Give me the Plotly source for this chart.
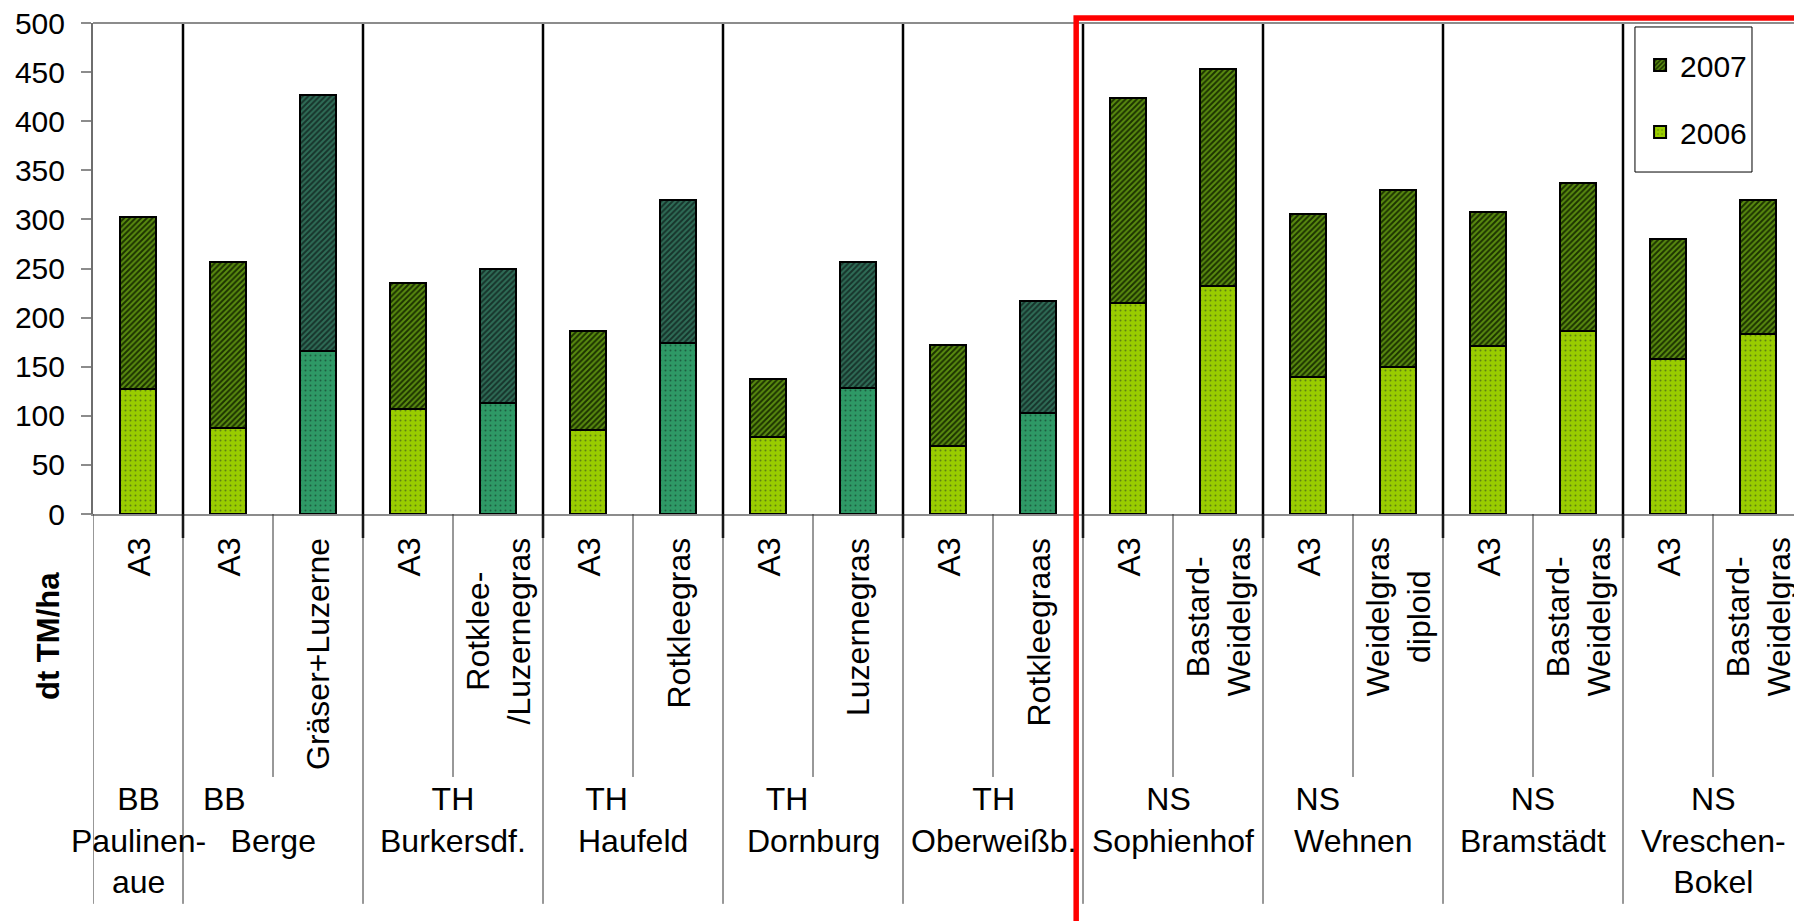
import plotly.graph_objects as go

# ---- data -----------------------------------------------------------------
treatments = [
    "A3", "A3", "Gräser+Luzerne", "A3", "Rotklee-<br>/Luzernegras",
    "A3", "Rotkleegras", "A3", "Luzernegras", "A3", "Rotkleegraas",
    "A3", "Bastard-<br>Weidelgras", "A3", "Weidelgras<br>diploid",
    "A3", "Bastard-<br>Weidelgras", "A3", "Bastard-<br>Weidelgras",
]
crop_kind = [
    "Gras", "Gras", "Leguminose", "Gras", "Leguminose",
    "Gras", "Leguminose", "Gras", "Leguminose", "Gras", "Leguminose",
    "Gras", "Gras", "Gras", "Gras", "Gras", "Gras", "Gras", "Gras",
]
site_region = ["BB", "BB", "TH", "TH", "TH", "TH", "NS", "NS", "NS", "NS"]
site_name = ["Paulinen-<br>aue", "Berge", "Burkersdf.", "Haufeld", "Dornburg",
             "Oberweißb.", "Sophienhof", "Wehnen", "Bramstädt", "Vreschen-<br>Bokel"]
site_size = [1, 2, 2, 2, 2, 2, 2, 2, 2, 2]

yield_2006 = [127, 88, 166, 107, 113, 86, 174, 78, 128, 69, 103,
              215, 232, 140, 150, 171, 186, 158, 183]
yield_2007 = [175, 169, 261, 128, 136, 100, 146, 59, 129, 103, 114,
              209, 221, 166, 180, 137, 151, 122, 137]

# ---- styles -----------------------------------------------------------------
FONT = "Liberation Sans, Arial, sans-serif"
# (background, foreground) of the fill pattern per year and crop kind
fill = {
    ("2006", "Gras"): ("#99cc00", "#5f7f10"),
    ("2006", "Leguminose"): ("#2e9966", "#1d5e40"),
    ("2007", "Gras"): ("#5a8c10", "#1c3300"),
    ("2007", "Leguminose"): ("#2f6d57", "#17342b"),
}
pattern_shape = {"2006": ".", "2007": "/"}
pattern_size = {"2006": 5, "2007": 4}
pattern_solidity = {"2006": 0.12, "2007": 0.5}
region_indent = [0, 11, 0, 6, 6, 0, 1, 8, 0, 0]   # trailing blanks in the region line

n = len(treatments)
idx = list(range(n))

fig = go.Figure()
for year, values in (("2006", yield_2006), ("2007", yield_2007)):
    for kind in ("Gras", "Leguminose"):
        sel = [i for i in idx if crop_kind[i] == kind]
        bg, fg = fill[(year, kind)]
        fig.add_trace(go.Bar(
            x=sel, y=[values[i] for i in sel], name=year,
            showlegend=(kind == "Gras"), legendrank=1 if year == "2007" else 2,
            legendgroup=year,
            marker=dict(
                color=bg, line=dict(color="black", width=2),
                pattern=dict(shape=pattern_shape[year], size=pattern_size[year],
                             solidity=pattern_solidity[year], fillmode="replace",
                             bgcolor=bg, fgcolor=fg),
            ),
        ))

# site boundaries and label grid
starts = []
s = 0
for size in site_size:
    starts.append(s)
    s += size
shapes = []
for st in starts[1:]:
    # separator through the plot, running a little below the axis
    shapes.append(dict(type="line", xref="x", yref="paper", x0=st - 0.5, x1=st - 0.5,
                       y0=-0.049, y1=1, line=dict(color="black", width=2.5)))
for st in starts:
    shapes.append(dict(type="line", xref="x", yref="paper", x0=st - 0.5, x1=st - 0.5,
                       y0=-0.794, y1=0, line=dict(color="#333333", width=1)))
for st, size in zip(starts, site_size):
    if size == 2:
        shapes.append(dict(type="line", xref="x", yref="paper", x0=st + 0.5, x1=st + 0.5,
                           y0=-0.5356, y1=0, line=dict(color="#333333", width=1)))
# top frame line
shapes.append(dict(type="line", xref="paper", yref="paper", x0=0, x1=1, y0=1, y1=1,
                   line=dict(color="#8c8c8c", width=2)))
# legend frame
shapes.append(dict(type="rect", xref="paper", yref="paper", x0=0.9065, x1=0.9753,
                   y0=0.6965, y1=0.9919, line=dict(color="black", width=1),
                   fillcolor="white", layer="above"))
# highlight frame around the NS sites
shapes.append(dict(type="rect", xref="paper", yref="paper", x0=0.578, x1=1.05,
                   y0=-0.86, y1=1.0102, line=dict(color="#ff0000", width=5.5),
                   fillcolor="rgba(0,0,0,0)", layer="above"))

annotations = []
for i, t in enumerate(treatments):
    annotations.append(dict(x=i, y=0, xref="x", yref="y", text=t, showarrow=False,
                            textangle=-90, xanchor="center", yanchor="top", yshift=-22,
                            align="center", font=dict(family=FONT, size=32, color="black")))
for st, size, reg, name, pad in zip(starts, site_size, site_region, site_name, region_indent):
    annotations.append(dict(x=st + (size - 1) / 2, y=-0.5397, xref="x", yref="paper",
                            text=reg + "\u00a0" * pad + "<br>" + name, showarrow=False,
                            xanchor="center", yanchor="top", align="center",
                            font=dict(family=FONT, size=32, color="black")))
annotations.append(dict(x=-0.02646, y=-0.2485, xref="paper", yref="paper",
                        text="<b>dt TM/ha</b>", showarrow=False, textangle=-90,
                        xanchor="center", yanchor="middle",
                        font=dict(family=FONT, size=31, color="black")))

fig.update_layout(
    width=1794, height=921, autosize=False,
    margin=dict(l=93, r=0, t=23, b=407, pad=0),
    plot_bgcolor="white", paper_bgcolor="white",
    barmode="stack", bargap=0.6,
    font=dict(family=FONT, size=30, color="black"),
    shapes=shapes, annotations=annotations,
    legend=dict(x=0.9095, y=0.9674, xanchor="left", yanchor="top",
                borderwidth=0, bgcolor="rgba(0,0,0,0)",
                traceorder="grouped", tracegroupgap=25,
                font=dict(family=FONT, size=30, color="black")),
    xaxis=dict(range=[-0.5, 18.4], showticklabels=False, ticks="", showgrid=False,
               zeroline=False, showline=True, linecolor="#8c8c8c", linewidth=2),
    yaxis=dict(range=[0, 500], dtick=50, showgrid=False, zeroline=False,
               showline=True, linecolor="#6e6e6e", linewidth=2,
               ticks="outside", ticklen=10, tickwidth=2, tickcolor="#8c8c8c",
               ticklabelstandoff=10, tickfont=dict(family=FONT, size=30, color="black")),
)

fig.write_html("out.html")
